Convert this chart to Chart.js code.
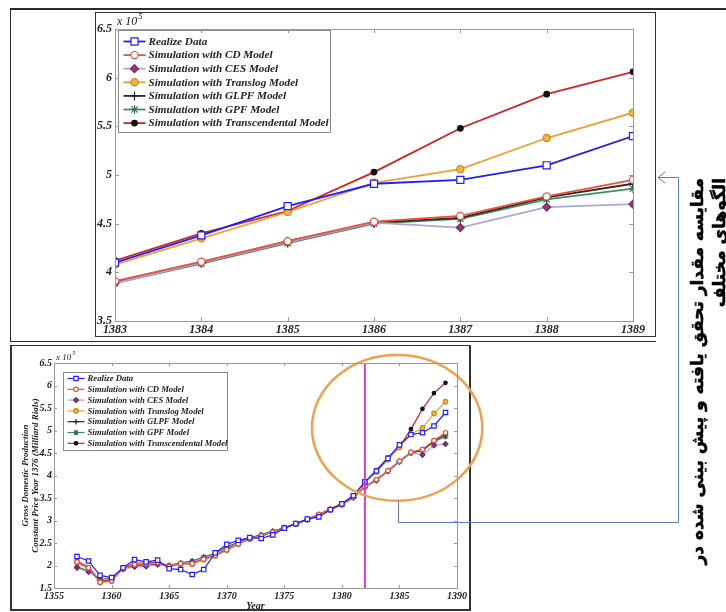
<!DOCTYPE html>
<html>
<head>
<meta charset="utf-8">
<script src="https://cdn.jsdelivr.net/npm/chart.js@4.4.0/dist/chart.umd.min.js"></script>
<style>
body{margin:0;width:726px;height:612px;background:#fff;position:relative;overflow:hidden}
canvas{position:absolute;left:0;top:0}
.ln{position:absolute;background:#2a2a2a}
.box{position:absolute;border:1px solid #333;box-sizing:border-box}
#fa{position:absolute;left:686px;top:568px;width:390px;transform-origin:0 0;transform:rotate(-90deg);
  direction:rtl;text-align:right;font:bold 17px "DejaVu Sans";line-height:22px;color:#000;white-space:nowrap;
  -webkit-text-stroke:0.5px #000}
</style>
</head>
<body>
<div class="ln" style="left:10px;top:8px;width:716px;height:2px"></div>
<div class="ln" style="left:10px;top:9px;width:1px;height:333px"></div>
<div class="ln" style="left:10px;top:341px;width:646px;height:1px"></div>
<div class="box" style="left:95px;top:12px;width:561px;height:325px"></div>
<div class="box" style="left:10px;top:345px;width:461px;height:266px;border-width:1px 2px 2px 2px"></div>
<canvas id="chart-all" width="726" height="612"></canvas>
<canvas id="chart-zoom" width="726" height="612"></canvas>
<div id="fa">مقایسه مقدار تحقق یافته و پیش بینی شده در<br>الگوهای مختلف</div>
<script>
// values are x 10^5 (Milliard Rials)
const years=[1357,1358,1359,1360,1361,1362,1363,1364,1365,1366,1367,1368,1369,1370,1371,1372,1373,1374,1375,1376,1377,1378,1379,1380,1381,1382,1383,1384,1385,1386,1387,1388,1389];
const realized=[2.20,2.10,1.78,1.73,1.95,2.13,2.08,2.12,1.93,1.91,1.80,1.91,2.28,2.47,2.56,2.62,2.60,2.68,2.83,2.93,3.03,3.08,3.24,3.37,3.55,3.86,4.10,4.38,4.68,4.91,4.95,5.10,5.40];
const cdModel=[2.08,1.95,1.63,1.66,1.94,2.02,2.04,2.07,1.98,2.04,2.04,2.14,2.22,2.35,2.48,2.59,2.66,2.74,2.83,2.93,3.02,3.13,3.25,3.36,3.52,3.76,3.91,4.11,4.32,4.52,4.58,4.78,4.95];
const cesModel=[1.95,1.86,1.68,1.70,1.92,1.97,1.98,2.02,1.99,2.04,2.08,2.17,2.25,2.39,2.50,2.60,2.67,2.75,2.84,2.92,3.02,3.12,3.24,3.35,3.51,3.74,3.89,4.10,4.31,4.51,4.46,4.67,4.70];
const translogModel=[2.06,1.93,1.62,1.65,1.93,2.03,2.03,2.06,1.97,2.03,2.03,2.13,2.21,2.34,2.48,2.59,2.66,2.74,2.83,2.92,3.02,3.13,3.25,3.37,3.54,3.83,4.08,4.35,4.62,4.92,5.06,5.38,5.64];
const glpfModel=[1.95,1.87,1.68,1.71,1.93,1.98,1.99,2.03,2.00,2.05,2.09,2.18,2.26,2.40,2.51,2.61,2.68,2.76,2.84,2.92,3.02,3.12,3.24,3.35,3.51,3.75,3.90,4.10,4.32,4.51,4.56,4.77,4.91];
const gpfModel=[1.97,1.88,1.69,1.71,1.93,1.99,2.00,2.03,2.00,2.06,2.10,2.19,2.27,2.41,2.52,2.61,2.68,2.76,2.84,2.92,3.02,3.12,3.24,3.35,3.51,3.74,3.89,4.09,4.30,4.50,4.55,4.75,4.86];
const transModel=[2.10,1.96,1.66,1.68,1.95,2.05,2.06,2.08,1.99,2.05,2.06,2.15,2.23,2.36,2.49,2.60,2.67,2.75,2.84,2.93,3.03,3.14,3.26,3.38,3.55,3.85,4.12,4.40,4.63,5.03,5.48,5.83,6.06];
const seriesNames=['Realize Data','Simulation with CD Model','Simulation with CES Model','Simulation with Translog Model','Simulation with GLPF Model','Simulation with GPF Model','Simulation with Transcendental Model'];
const seriesValues=[realized,cdModel,cesModel,translogModel,glpfModel,gpfModel,transModel];
const zoomFrom=1383;       // first year of the upper (zoomed) chart
const splitYear=1382;      // magenta line in the lower chart

const looks=[
  {line:'#1f1fff',bg:'#ffffff',edge:'#1f1fff',style:'rect',r:5},
  {line:'#f0503a',bg:'#ffffff',edge:'#e0533d',style:'circle',r:3.6},
  {line:'#aaa8d8',bg:'#b0305a',edge:'#5a3080',style:'rectRot',r:4},
  {line:'#f0a030',bg:'#f5b342',edge:'#c98a1a',style:'circle',r:3.6},
  {line:'#2b2b2b',bg:'#2b2b2b',edge:'#222222',style:'cross',r:4.5},
  {line:'#3d8f5f',bg:'#3d8f5f',edge:'#3d6f55',style:'star',r:4.5},
  {line:'#d42222',bg:'#111111',edge:'#111111',style:'circle',r:2.8}
];

const serif='"Liberation Serif"';

function makeSets(fromYear,k,lw){
  return seriesNames.map((name,i)=>{
    const L=looks[i];
    const pts=years.map((y,j)=>({x:y,y:seriesValues[i][j]})).filter(p=>p.x>=fromYear);
    return {label:name,data:pts,borderColor:L.line,borderWidth:lw,pointStyle:L.style,
      pointRadius:L.r*k,pointBackgroundColor:L.bg,pointBorderColor:L.edge,pointBorderWidth:1.2,tension:0};
  });
}

const frameTicks={id:'frameTicks',afterDraw(chart,args,o){
  const {ctx,chartArea:a,scales:{x,y}}=chart;
  ctx.save();ctx.strokeStyle=o.color;ctx.lineWidth=1;
  ctx.strokeRect(Math.round(a.left)+.5,Math.round(a.top)+.5,Math.round(a.width),Math.round(a.height));
  ctx.beginPath();
  x.ticks.forEach(t=>{const p=Math.round(x.getPixelForValue(t.value))+.5;
    ctx.moveTo(p,a.bottom);ctx.lineTo(p,a.bottom-o.len);ctx.moveTo(p,a.top);ctx.lineTo(p,a.top+o.len);});
  y.ticks.forEach(t=>{const p=Math.round(y.getPixelForValue(t.value))+.5;
    ctx.moveTo(a.left,p);ctx.lineTo(a.left+o.len,p);ctx.moveTo(a.right,p);ctx.lineTo(a.right-o.len,p);});
  ctx.stroke();
  // exponent label
  ctx.fillStyle='#222';ctx.textBaseline='alphabetic';
  ctx.font=`italic ${o.exp}px ${serif}`;
  const ex=a.left+2, ey=a.top-o.exp*0.35;
  ctx.fillText('x 10',ex,ey);
  const w=ctx.measureText('x 10').width;
  ctx.font=`italic ${o.exp*0.7}px ${serif}`;
  ctx.fillText('5',ex+w+1,ey-o.exp*0.5);
  ctx.restore();
}};

const boxLegend={id:'boxLegend',afterDatasetsDraw(chart,args,o){
  const {ctx,chartArea:a}=chart;
  const x=Math.round(a.left+o.dx)+.5,y=Math.round(a.top+o.dy)+.5;
  ctx.save();
  ctx.fillStyle='#fff';ctx.fillRect(x,y,o.w,o.h);
  ctx.strokeStyle='#8a8a8a';ctx.lineWidth=1;ctx.strokeRect(x,y,o.w,o.h);
  ctx.font=`italic bold ${o.size}px ${serif}`;ctx.textBaseline='middle';
  chart.data.datasets.forEach((d,i)=>{
    const cy=y+o.first+i*o.row;
    ctx.strokeStyle=d.borderColor;ctx.lineWidth=d.borderWidth;
    ctx.beginPath();ctx.moveTo(x+o.pad,cy);ctx.lineTo(x+o.pad+o.line,cy);ctx.stroke();
    ctx.fillStyle=d.pointBackgroundColor;ctx.strokeStyle=d.pointBorderColor;ctx.lineWidth=d.pointBorderWidth;
    Chart.helpers.drawPoint(ctx,{pointStyle:d.pointStyle,radius:d.pointRadius,rotation:0,borderWidth:d.pointBorderWidth},x+o.pad+o.line/2,cy);
    ctx.fillStyle='#222';ctx.fillText(d.label,x+o.pad+o.line+3,cy+0.5);
  });
  ctx.restore();
}};

const yTitle={id:'yTitle',afterDraw(chart,args,o){
  if(!o.lines) return;
  const {ctx,chartArea:a}=chart;
  ctx.save();ctx.fillStyle='#222';ctx.font=`italic bold ${o.size}px ${serif}`;
  ctx.textAlign='center';ctx.textBaseline='middle';
  ctx.translate(o.x,(a.top+a.bottom)/2+o.dy);ctx.rotate(-Math.PI/2);
  o.lines.forEach((t,i)=>ctx.fillText(t,0,i*o.gap));
  ctx.restore();
}};

const marks={id:'marks',afterDatasetsDraw(chart,args,o){
  if(!o.on) return;
  const {ctx,chartArea:a,scales:{x,y}}=chart;
  ctx.save();
  const px=x.getPixelForValue(splitYear);
  ctx.strokeStyle='#d63ad6';ctx.lineWidth=2;
  ctx.beginPath();ctx.moveTo(px,a.top);ctx.lineTo(px,a.bottom);ctx.stroke();
  // highlight ellipse around the forecast years
  const cx=x.getPixelForValue(1384.8),cy=y.getPixelForValue(5.06);
  const rx=x.getPixelForValue(1384.8+7.4)-cx, ry=cy-y.getPixelForValue(5.06+1.62);
  ctx.strokeStyle='#f0a050';ctx.lineWidth=2.5;
  ctx.beginPath();ctx.ellipse(cx,cy,rx,ry,0,0,Math.PI*2);ctx.stroke();
  // connector to the zoomed chart
  ctx.strokeStyle='#5b7db8';ctx.lineWidth=1;
  ctx.beginPath();ctx.moveTo(398.5,cy+ry);ctx.lineTo(398.5,522.5);ctx.lineTo(678.5,522.5);ctx.lineTo(678.5,177.5);ctx.lineTo(658,177.5);
  ctx.moveTo(665,172);ctx.lineTo(658,177.5);ctx.lineTo(665,183);ctx.stroke();
  ctx.restore();
}};

function axisFont(s){return {family:serif,style:'italic',weight:'bold',size:s};}
const noGrid={display:false,drawTicks:false};

// upper chart: 1383-1389
new Chart(document.getElementById('chart-zoom'),{
  type:'line',
  data:{datasets:makeSets(zoomFrom,1,1.8)},
  options:{responsive:false,animation:false,
    layout:{padding:{left:75,right:93,top:29,bottom:271}},
    plugins:{legend:{display:false},tooltip:{enabled:false},
      frameTicks:{color:'#9a9a9a',len:4,exp:12},
      boxLegend:{dx:3,dy:1,w:212,h:102,size:11.2,first:11,row:13.6,pad:5,line:22},
      yTitle:{},marks:{on:false}},
    scales:{
      x:{type:'linear',min:1383,max:1389,afterFit:s=>{s.height=20;},
        ticks:{stepSize:1,padding:2,color:'#222',font:axisFont(12),callback:v=>String(v),maxRotation:0},
        grid:noGrid,border:{display:false}},
      y:{min:3.5,max:6.5,afterFit:s=>{s.width=40;},
        ticks:{stepSize:0.5,padding:3,color:'#222',font:axisFont(12),callback:v=>String(v)},
        grid:noGrid,border:{display:false}}
    }},
  plugins:[frameTicks,boxLegend,yTitle,marks]
});

// lower chart: whole period
new Chart(document.getElementById('chart-all'),{
  type:'line',
  data:{datasets:makeSets(years[0],0.62,1.2)},
  options:{responsive:false,animation:false,
    layout:{padding:{left:14,right:269,top:363,bottom:0}},
    plugins:{legend:{display:false},tooltip:{enabled:false},
      frameTicks:{color:'#9a9a9a',len:3,exp:9},
      boxLegend:{dx:9,dy:9,w:164,h:78,size:8.7,first:6,row:10.8,pad:4,line:17},
      yTitle:{lines:['Gross Domestic Production','Constant Price Year 1376 (Milliard Rials)'],size:9,x:26,gap:10,dy:0},
      marks:{on:true}},
    scales:{
      x:{type:'linear',min:1355,max:1390,afterFit:s=>{s.height=24;},
        title:{display:true,text:'Year',color:'#222',font:axisFont(10),padding:{top:0,bottom:0}},
        ticks:{stepSize:5,padding:2,color:'#222',font:axisFont(10),callback:v=>String(v),maxRotation:0},
        grid:noGrid,border:{display:false}},
      y:{min:1.5,max:6.5,afterFit:s=>{s.width=40;},
        ticks:{stepSize:0.5,padding:2,color:'#222',font:axisFont(10),callback:v=>String(v)},
        grid:noGrid,border:{display:false}}
    }},
  plugins:[frameTicks,boxLegend,yTitle,marks]
});
</script>
</body>
</html>
